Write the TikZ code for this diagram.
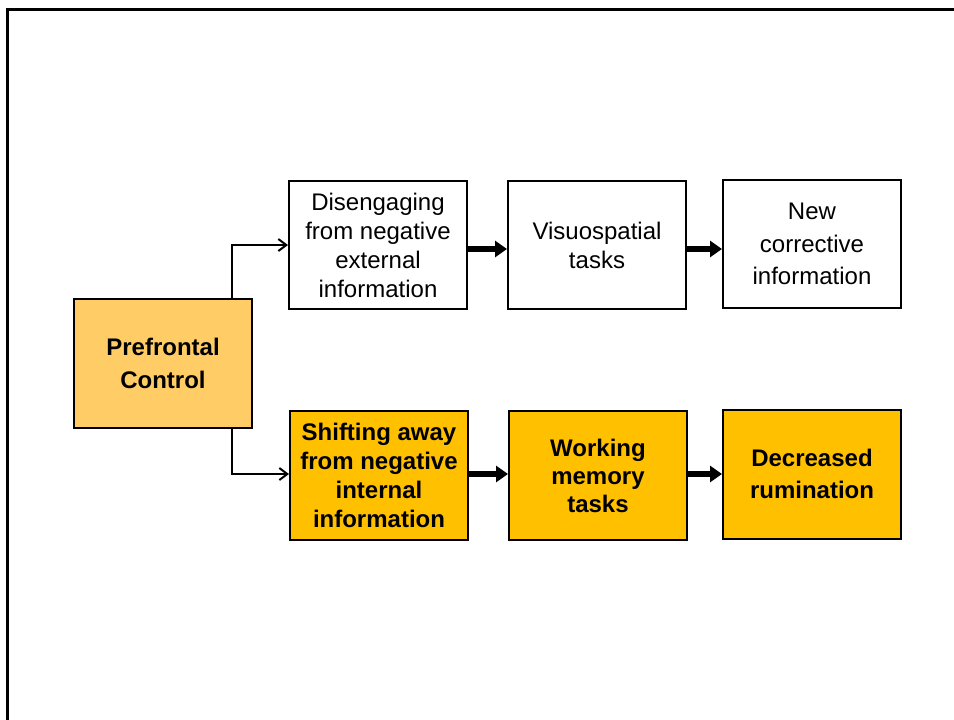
\documentclass[tikz,border=0pt]{standalone}
\usepackage{fontspec}
\setmainfont{Liberation Sans}
\usetikzlibrary{arrows.meta}
\definecolor{lightgold}{HTML}{FFCC66}
\definecolor{gold}{HTML}{FFC000}
\begin{document}
\begin{tikzpicture}[x=1pt,y=-1pt,
  box/.style={draw=black,line width=2pt,minimum width=178pt,align=center,inner sep=0pt,font=\fontsize{24}{29}\selectfont},
  plainbox/.style={box,fill=white,minimum height=128pt},
  goldbox/.style={box,fill=gold,minimum height=129pt,font=\fontsize{24}{29}\bfseries\selectfont},
  link/.style={line width=2pt,-{Straight Barb[length=8pt,width=12pt,line width=2pt]}},
  flow/.style={line width=6pt,-{Triangle[length=12pt,width=16pt]}}]
\useasboundingbox (0,0) rectangle (954,720);
% page frame
\draw[line width=3pt] (7,720) -- (7,9) -- (954,9);

% source box
\node[box,fill=lightgold,minimum height=129pt,font=\fontsize{24}{33}\bfseries\selectfont] (pc) at (163,363.5) {Prefrontal\\Control};

% external route
\node[plainbox] (dis) at (378,245) {Disengaging\\from negative\\external\\information};
\node[plainbox] (vis) at (597,245) {Visuospatial\\tasks};
\node[plainbox,font=\fontsize{24}{32.5}\selectfont] (new) at (812,244) {New\\corrective\\information};

% internal route
\node[goldbox] (shi) at (379,475) {Shifting away\\from negative\\internal\\information};
\node[goldbox,font=\fontsize{24}{28}\bfseries\selectfont] (wor) at (598,475.5) {Working\\memory\\tasks};
\node[goldbox,font=\fontsize{24}{32}\bfseries\selectfont] (dec) at (812,474) {Decreased\\rumination};

% branches from the source box
\coordinate (up) at (232,245);
\coordinate (dn) at (232,474);
\draw[link] (pc.north -| up) -- (up) -- (dis.west |- up);
\draw[link] (pc.south -| dn) -- (dn) -- (shi.west |- dn);

% sequence arrows
\draw[flow] (dis.east |- 0,249) -- (vis.west |- 0,249);
\draw[flow] (vis.east |- 0,249) -- (new.west |- 0,249);
\draw[flow] (shi.east |- 0,474) -- (wor.west |- 0,474);
\draw[flow] (wor.east |- 0,474) -- (dec.west |- 0,474);
\end{tikzpicture}
\end{document}
